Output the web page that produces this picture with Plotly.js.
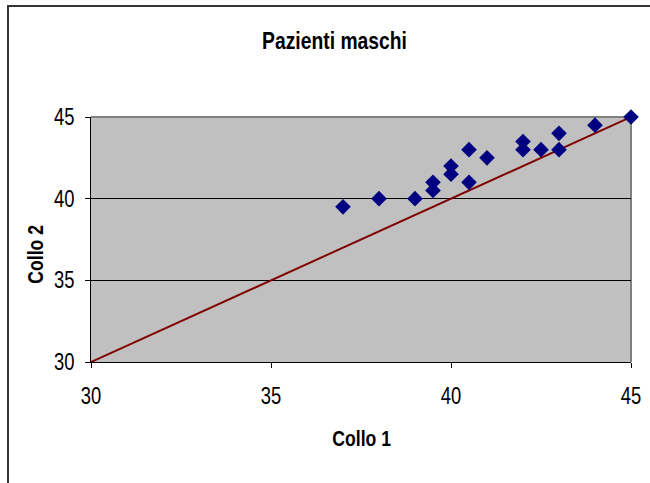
<!DOCTYPE html>
<html>
<head>
<meta charset="utf-8">
<script src="https://cdn.plot.ly/plotly-3.0.1.min.js"></script>
<style>
  html, body { margin: 0; padding: 0; background: #ffffff; }
  #wrap { position: relative; width: 650px; height: 483px; }
  #chart { position: absolute; left: 0; top: 0; width: 650px; height: 483px; }
  #frame { position: absolute; left: 7px; top: 5px; width: 660px; height: 500px;
           border-left: 2px solid #333333; border-top: 2px solid #333333; pointer-events: none; }
</style>
</head>
<body>
<div id="wrap">
  <div id="chart"></div>
  <div id="frame"></div>
</div>
<script>
// Data
const collo1 = [37, 38, 39, 39.5, 39.5, 40, 40, 40.5, 40.5, 41, 42, 42, 42.5, 43, 43, 44, 45];
const collo2 = [39.5, 40, 40, 40.5, 41, 41.5, 42, 41, 43, 42.5, 43.5, 43, 43, 44, 43, 44.5, 45];
// Identity reference line
const lineX = [30, 45];
const lineY = [30, 45];
const tickVals = [30, 35, 40, 45];
const tickText = ['30', '35', '40', '45'];
const titleText = 'Pazienti maschi';
const xTitleText = 'Collo 1';
const yTitleText = 'Collo 2';

const FONT = '"Liberation Sans", Arial, sans-serif';

const traces = [
  {
    x: lineX, y: lineY, type: 'scatter', mode: 'lines',
    line: { color: '#800000', width: 2 },
    hoverinfo: 'skip', showlegend: false
  },
  {
    x: collo1, y: collo2, type: 'scatter', mode: 'markers',
    marker: { symbol: 'diamond', color: '#000080', size: 12, line: { width: 0 } },
    showlegend: false, cliponaxis: false
  }
];

const layout = {
  width: 650, height: 483,
  margin: { l: 91, r: 19, t: 117, b: 121, pad: 0 },
  paper_bgcolor: '#ffffff',
  plot_bgcolor: '#c0c0c0',
  showlegend: false,
  title: {
    text: '<b>' + titleText + '</b>',
    font: { family: FONT, size: 23, color: '#000000' },
    x: 334.5 / 650, xanchor: 'center', y: 1 - 41 / 483, yanchor: 'middle'
  },
  xaxis: {
    range: [30, 45], tickvals: tickVals, ticktext: tickText,
    showgrid: false, zeroline: false,
    showline: true, linecolor: '#000000', linewidth: 1,
    ticks: 'outside', ticklen: 5, tickcolor: '#000000', tickwidth: 1,
    ticklabelstandoff: 8,
    tickfont: { family: FONT, size: 23, color: '#000000' }
  },
  yaxis: {
    range: [30, 45], tickvals: tickVals, ticktext: tickText,
    showgrid: true, gridcolor: '#000000', gridwidth: 1, zeroline: false,
    showline: true, linecolor: '#000000', linewidth: 1,
    ticks: 'outside', ticklen: 5, tickcolor: '#000000', tickwidth: 1,
    ticklabelstandoff: 6,
    tickfont: { family: FONT, size: 23, color: '#000000' }
  },
  annotations: [
    { text: '<b>' + xTitleText + '</b>', xref: 'paper', yref: 'paper',
      x: 0.5, y: (362 - 438) / 245, xanchor: 'center', yanchor: 'middle',
      showarrow: false, font: { family: FONT, size: 22, color: '#000000' } },
    { text: '<b>' + yTitleText + '</b>', xref: 'paper', yref: 'paper',
      x: (35 - 91) / 540, y: (362 - 255) / 245, xanchor: 'center', yanchor: 'middle',
      textangle: -90,
      showarrow: false, font: { family: FONT, size: 22, color: '#000000' } }
  ],
  shapes: [
    { type: 'line', xref: 'paper', yref: 'paper', x0: 0, x1: 1, y0: 1, y1: 1,
      line: { color: '#808080', width: 2 }, layer: 'between' },
    { type: 'line', xref: 'paper', yref: 'paper', x0: 1, x1: 1, y0: 0, y1: 1,
      line: { color: '#808080', width: 2 }, layer: 'between' }
  ]
};

// Condense text horizontally around its anchor to mimic a narrow typeface
function condense(gd) {
  const sel = [
    ['.xtick text', 0.80], ['.ytick text', 0.80],
    ['.gtitle', 0.84], ['.annotation-text', 0.80]
  ];
  sel.forEach(([q, s]) => {
    gd.querySelectorAll(q).forEach(el => {
      if (el.getAttribute('data-condensed')) return;
      const cx = parseFloat(el.getAttribute('x')) || 0;
      const t = el.getAttribute('transform') || '';
      el.setAttribute('transform', t + ' translate(' + cx + ',0) scale(' + s + ',1) translate(' + (-cx) + ',0)');
      el.setAttribute('data-condensed', '1');
    });
  });
}

Plotly.newPlot('chart', traces, layout, { displayModeBar: false, staticPlot: true })
  .then(gd => condense(gd));
</script>
</body>
</html>
